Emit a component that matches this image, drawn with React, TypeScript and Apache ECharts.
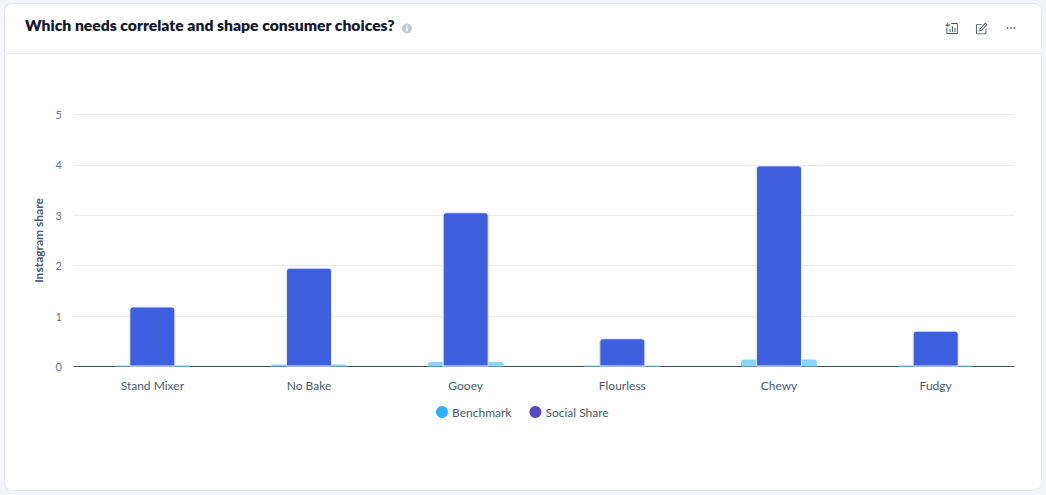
import React, { useEffect, useRef } from "react";
import * as echarts from "echarts";

const categories = ["Stand Mixer", "No Bake", "Gooey", "Flourless", "Chewy", "Fudgy"];
const benchmark = [0.02, 0.04, 0.09, 0.02, 0.14, 0.02];
const socialShare = [1.19, 1.96, 3.06, 0.56, 3.99, 0.71];
const titleText = "Which needs correlate and shape consumer choices?";
const yName = "Instagram share";
const FONT = "Lato, 'Open Sans', sans-serif";

echarts.graphic.registerShape(
  "iconChart",
  echarts.graphic.extendPath(
    "M3 4H1V2.6H3V0.6H4V2.6H6V3.6H4V5H3ZM7 1H13Q14 1 14 2V11.5Q14 12.5 13 12.5H3Q2 12.5 2 11.5V6H3V11.5H13V2H7ZM5.5 7.5H6.5V10.5H5.5ZM8 4.5H9V10.5H8ZM10.5 6H11.5V10.5H10.5Z",
    {}
  )
);
echarts.graphic.registerShape(
  "iconEdit",
  echarts.graphic.extendPath(
    "M2.5 2H7V3H2.5Q2 3 2 3.5V11.5Q2 12 2.5 12H10.5Q11 12 11 11.5V7H12V11.5Q12 13 10.5 13H2.5Q1 13 1 11.5V3.5Q1 2 2.5 2ZM10.8 0.6L13.2 3L7 9.2L4.3 9.8L4.9 7ZM10.8 2L5.8 7.5L5.6 8.5L6.6 8.3L11.8 3Z",
    {}
  )
);

export default function App() {
  const ref = useRef<HTMLDivElement>(null);
  useEffect(() => {
    if (!ref.current) return;
    const chart = echarts.init(ref.current, null, { renderer: "svg" });
    chart.setOption({
      animation: false,
      backgroundColor: "#f4f5f8",
      textStyle: { fontFamily: FONT },
      grid: { left: 74, right: 32, top: 114.5, bottom: 128.5, containLabel: false },
      legend: {
        show: true,
        left: 431,
        top: 401,
        itemWidth: 12,
        itemHeight: 12,
        itemGap: 18,
        icon: "circle",
        textStyle: { color: "#4a5a70", fontSize: 12, fontFamily: FONT, padding: [0, 0, 0, -1] },
        data: [
          { name: "Benchmark", itemStyle: { color: "#29b0ff", borderWidth: 0 } },
          { name: "Social Share", itemStyle: { color: "#5549c6", borderWidth: 0 } },
        ],
      },
      xAxis: [
        {
          type: "category",
          data: categories,
          axisLine: { lineStyle: { color: "#444a52", width: 1 } },
          axisTick: { show: false },
          axisLabel: { color: "#4a5a70", fontSize: 12, margin: 13, fontFamily: FONT },
        },
        { type: "category", data: categories, show: false },
      ],
      yAxis: {
        type: "value",
        min: 0,
        max: 5,
        interval: 1,
        name: yName,
        nameLocation: "middle",
        nameGap: 23,
        nameTextStyle: { color: "#4a5a70", fontSize: 12, fontWeight: "bold", fontFamily: FONT },
        axisLine: { show: false },
        axisTick: { show: false },
        axisLabel: { color: "#66758a", fontSize: 11, margin: 12, fontFamily: FONT },
        splitLine: { lineStyle: { color: "#e9ebef", width: 1 } },
      },
      series: [
        {
          name: "Benchmark",
          type: "bar",
          xAxisIndex: 1,
          data: benchmark,
          barWidth: 76,
          z: 2,
          itemStyle: { color: "#8ad5ff", borderRadius: [3, 3, 0, 0] },
        },
        {
          name: "Social Share",
          type: "bar",
          xAxisIndex: 0,
          data: socialShare,
          barWidth: 46,
          z: 3,
          itemStyle: {
            color: "#3d5fe0",
            borderColor: "#e4eafc",
            borderWidth: 1,
            borderRadius: [3, 3, 0, 0],
          },
        },
      ],
      graphic: [
        {
          type: "rect",
          z: -10,
          silent: true,
          shape: { x: 4.5, y: 3.5, width: 1037, height: 487, r: 8 },
          style: { fill: "#ffffff", stroke: "#e4e6ea", lineWidth: 1 },
        },
        {
          type: "line",
          z: -9,
          silent: true,
          shape: { x1: 5, y1: 53.5, x2: 1041, y2: 53.5 },
          style: { stroke: "#e6e8ec", lineWidth: 1 },
        },
        {
          type: "text",
          x: 25,
          y: 17,
          style: {
            text: titleText,
            fill: "#14192b",
            font: "800 15.7px " + FONT,
          },
        },
        { type: "circle", shape: { cx: 407, cy: 28.5, r: 5 }, style: { fill: "#c6c9cf" } },
        { type: "rect", shape: { x: 406.3, y: 27.5, width: 1.4, height: 4 }, style: { fill: "#ffffff" } },
        { type: "rect", shape: { x: 406.3, y: 25.2, width: 1.4, height: 1.4 }, style: { fill: "#ffffff" } },
        { type: "iconChart", x: 944.5, y: 22, scaleX: 0.95, scaleY: 0.95, style: { fill: "#4a5568" } },
        { type: "iconEdit", x: 975, y: 22, scaleX: 0.95, scaleY: 0.95, style: { fill: "#4a5568" } },
        { type: "circle", shape: { cx: 1007.5, cy: 28, r: 0.9 }, style: { fill: "#5f6b7c" } },
        { type: "circle", shape: { cx: 1011, cy: 28, r: 0.9 }, style: { fill: "#5f6b7c" } },
        { type: "circle", shape: { cx: 1014.5, cy: 28, r: 0.9 }, style: { fill: "#5f6b7c" } },
      ],
    });
    return () => chart.dispose();
  }, []);
  return (
    <div
      ref={ref}
      style={{ position: "absolute", left: 0, top: 0, width: 1046, height: 495 }}
    />
  );
}
